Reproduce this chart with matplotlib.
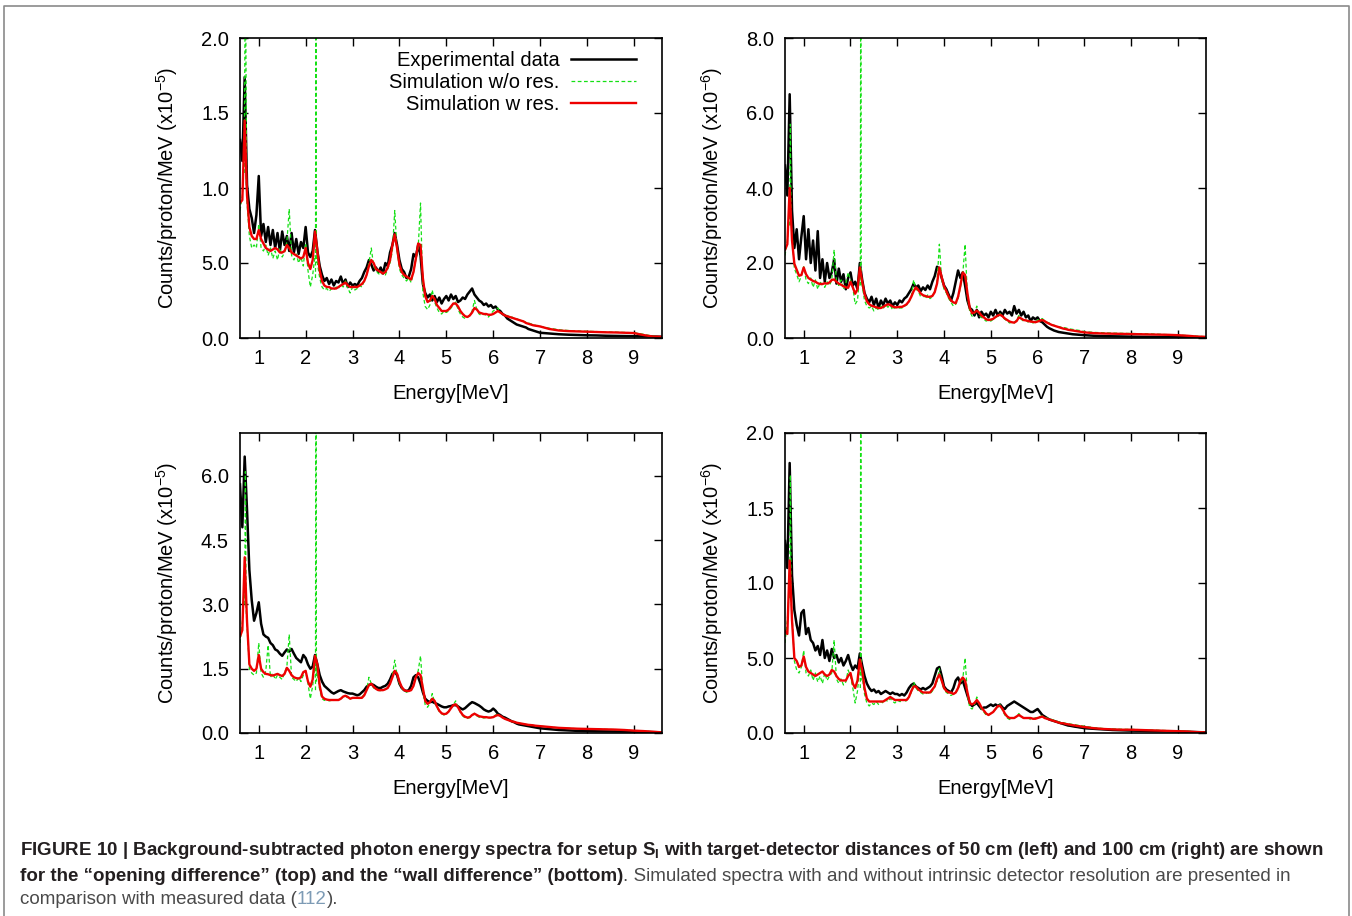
import numpy as np
import matplotlib
matplotlib.use("Agg")
import matplotlib.pyplot as plt
from matplotlib.lines import Line2D
from matplotlib import font_manager

# energy bin centres (MeV): 0.05 steps up to 6.95, then 0.2 steps in the flat tail
energy = np.concatenate([0.60 + 0.05 * np.arange(128), 7.0 + 0.2 * np.arange(14)])

# ---- top left: opening difference, 50 cm (x1e-5) ----
tl_exp = [1.32, 1.18, 1.74, 1.02, 0.86, 0.80, 0.70, 0.82, 1.08, 0.68,
          0.76, 0.64, 0.74, 0.62, 0.72, 0.60, 0.70, 0.58, 0.71, 0.62,
          0.68, 0.58, 0.70, 0.57, 0.66, 0.56, 0.64, 0.60, 0.74, 0.57,
          0.54, 0.58, 0.72, 0.58, 0.48, 0.42, 0.38, 0.40, 0.36, 0.39,
          0.35, 0.38, 0.37, 0.41, 0.36, 0.39, 0.34, 0.37, 0.35, 0.36,
          0.35, 0.38, 0.40, 0.44, 0.47, 0.52, 0.49, 0.45, 0.47, 0.44,
          0.47, 0.43, 0.50, 0.48, 0.57, 0.62, 0.70, 0.62, 0.52, 0.46,
          0.44, 0.40, 0.41, 0.46, 0.56, 0.54, 0.62, 0.55, 0.36, 0.30,
          0.27, 0.29, 0.25, 0.28, 0.24, 0.27, 0.23, 0.26, 0.28, 0.25,
          0.29, 0.26, 0.28, 0.24, 0.25, 0.27, 0.26, 0.29, 0.31, 0.33,
          0.29, 0.27, 0.25, 0.24, 0.22, 0.23, 0.21, 0.22, 0.20, 0.21,
          0.19, 0.18, 0.16, 0.15, 0.13, 0.12, 0.11, 0.10, 0.09, 0.085,
          0.08, 0.075, 0.07, 0.06, 0.055, 0.05, 0.045, 0.04,
          0.035, 0.03, 0.025, 0.022, 0.02, 0.018, 0.017, 0.015, 0.014, 0.013, 0.012, 0.011, 0.01, 0.008]
tl_sim = [0.85, 0.95, 1.30, 0.90, 0.68, 0.60, 0.62, 0.60, 0.76, 0.60,
          0.58, 0.62, 0.55, 0.60, 0.53, 0.58, 0.52, 0.60, 0.54, 0.57,
          0.64, 0.86, 0.55, 0.52, 0.56, 0.50, 0.54, 0.48, 0.63, 0.45,
          0.34, 0.42, 0.55, 0.50, 0.40, 0.34, 0.32, 0.33, 0.31, 0.33,
          0.32, 0.34, 0.33, 0.36, 0.34, 0.38, 0.33, 0.30, 0.34, 0.32,
          0.33, 0.35, 0.34, 0.38, 0.42, 0.50, 0.60, 0.48, 0.45, 0.43,
          0.42, 0.44, 0.42, 0.46, 0.50, 0.58, 0.85, 0.58, 0.46, 0.42,
          0.40, 0.38, 0.40, 0.37, 0.44, 0.52, 0.60, 0.90, 0.30, 0.21,
          0.19, 0.22, 0.32, 0.24, 0.20, 0.17, 0.16, 0.18, 0.17, 0.18,
          0.20, 0.22, 0.24, 0.19, 0.16, 0.14, 0.13, 0.14, 0.15, 0.18,
          0.25, 0.19, 0.16, 0.15, 0.16, 0.15, 0.14, 0.16, 0.18, 0.19,
          0.20, 0.17, 0.16, 0.15, 0.15, 0.14, 0.14, 0.13, 0.13, 0.12,
          0.12, 0.11, 0.105, 0.10, 0.095, 0.09, 0.085, 0.08,
          0.078, 0.065, 0.055, 0.05, 0.047, 0.045, 0.043, 0.04, 0.039, 0.037, 0.035, 0.025, 0.012, 0.008]
tl_res = [0.90, 0.92, 1.45, 0.95, 0.74, 0.68, 0.66, 0.66, 0.72, 0.66,
          0.63, 0.60, 0.59, 0.58, 0.59, 0.60, 0.59, 0.57, 0.57, 0.58,
          0.62, 0.60, 0.57, 0.56, 0.55, 0.54, 0.53, 0.54, 0.60, 0.50,
          0.46, 0.52, 0.71, 0.58, 0.45, 0.38, 0.35, 0.34, 0.34, 0.33,
          0.33, 0.33, 0.34, 0.35, 0.36, 0.37, 0.35, 0.34, 0.34, 0.34,
          0.34, 0.35, 0.36, 0.38, 0.42, 0.48, 0.52, 0.50, 0.46, 0.45,
          0.44, 0.43, 0.44, 0.47, 0.52, 0.62, 0.69, 0.60, 0.49, 0.44,
          0.42, 0.41, 0.40, 0.39, 0.44, 0.53, 0.63, 0.62, 0.40, 0.28,
          0.24, 0.25, 0.28, 0.26, 0.22, 0.20, 0.18, 0.18, 0.18, 0.19,
          0.21, 0.23, 0.23, 0.21, 0.18, 0.16, 0.145, 0.14, 0.15, 0.17,
          0.20, 0.19, 0.17, 0.165, 0.16, 0.16, 0.155, 0.155, 0.16, 0.17,
          0.18, 0.17, 0.16, 0.15, 0.145, 0.14, 0.135, 0.13, 0.125, 0.12,
          0.115, 0.11, 0.10, 0.095, 0.09, 0.085, 0.082, 0.08,
          0.077, 0.06, 0.05, 0.046, 0.044, 0.042, 0.04, 0.038, 0.037, 0.035, 0.033, 0.02, 0.01, 0.008]
tl_line_e = [0.69, 0.715, 0.74, np.nan, 2.21, 2.22, 2.23]
tl_line_y = [1.10, 2.60, 1.10, np.nan, 0.40, 3.00, 0.50]

# ---- top right: opening difference, 100 cm (x1e-6) ----
tr_exp = [4.60, 3.80, 6.50, 3.40, 2.40, 2.90, 2.10, 2.70, 3.25, 2.10,
          2.90, 2.00, 2.60, 1.80, 2.85, 1.60, 2.10, 1.50, 2.00, 1.60,
          1.75, 2.10, 1.45, 1.85, 1.50, 1.70, 1.30, 1.60, 1.75, 1.40,
          1.50, 1.30, 2.00, 1.55, 1.20, 1.05, 0.95, 1.10, 0.88, 1.05,
          0.80, 1.00, 0.88, 1.05, 0.92, 1.00, 0.85, 0.95, 0.88, 1.00,
          0.95, 1.05, 1.10, 1.20, 1.30, 1.45, 1.35, 1.40, 1.25, 1.35,
          1.28, 1.40, 1.30, 1.50, 1.65, 1.90, 1.85, 1.60, 1.40, 1.30,
          1.15, 1.00, 1.20, 1.50, 1.80, 1.60, 1.75, 1.40, 1.00, 0.80,
          0.75, 0.60, 0.75, 0.55, 0.70, 0.60, 0.65, 0.55, 0.70, 0.60,
          0.75, 0.60, 0.70, 0.60, 0.75, 0.65, 0.70, 0.60, 0.85, 0.65,
          0.75, 0.60, 0.70, 0.55, 0.60, 0.45, 0.55, 0.50, 0.55, 0.45,
          0.42, 0.36, 0.30, 0.26, 0.23, 0.20, 0.18, 0.16, 0.15, 0.14,
          0.13, 0.12, 0.11, 0.10, 0.095, 0.09, 0.085, 0.08,
          0.075, 0.06, 0.05, 0.045, 0.04, 0.035, 0.032, 0.03, 0.028, 0.025, 0.022, 0.02, 0.015, 0.01]
tr_sim = [2.20, 2.60, 3.50, 2.80, 1.85, 1.70, 1.50, 1.65, 1.90, 1.55,
          1.45, 1.60, 1.35, 1.55, 1.30, 1.50, 1.40, 1.35, 1.50, 1.40,
          1.55, 2.35, 1.50, 1.40, 1.55, 1.30, 1.45, 1.75, 1.55, 1.35,
          0.90, 1.00, 1.75, 1.40, 1.00, 0.85, 0.80, 0.85, 0.72, 0.80,
          0.75, 0.85, 0.78, 0.90, 0.82, 0.88, 0.75, 0.82, 0.78, 0.80,
          0.80, 0.85, 0.88, 0.95, 1.10, 1.55, 1.30, 1.25, 1.10, 1.15,
          1.05, 1.15, 1.05, 1.10, 1.25, 1.50, 2.50, 1.55, 1.30, 1.20,
          1.05, 0.95, 0.85, 0.90, 1.05, 1.35, 1.70, 2.50, 1.10, 0.70,
          0.58, 0.65, 0.85, 0.60, 0.55, 0.50, 0.45, 0.48, 0.45, 0.50,
          0.55, 0.58, 0.65, 0.55, 0.50, 0.45, 0.40, 0.42, 0.40, 0.48,
          0.60, 0.50, 0.45, 0.48, 0.42, 0.45, 0.40, 0.42, 0.48, 0.50,
          0.52, 0.46, 0.42, 0.40, 0.36, 0.34, 0.32, 0.30, 0.29, 0.28,
          0.27, 0.25, 0.24, 0.23, 0.22, 0.21, 0.20, 0.19,
          0.17, 0.15, 0.14, 0.13, 0.125, 0.12, 0.115, 0.11, 0.10, 0.09, 0.08, 0.065, 0.05, 0.035]
tr_res = [2.35, 2.50, 4.00, 2.60, 1.98, 1.82, 1.66, 1.68, 1.88, 1.70,
          1.60, 1.56, 1.52, 1.50, 1.46, 1.44, 1.44, 1.46, 1.45, 1.48,
          1.55, 1.56, 1.50, 1.45, 1.42, 1.38, 1.35, 1.34, 1.50, 1.35,
          1.18, 1.30, 1.88, 1.50, 1.18, 0.98, 0.90, 0.86, 0.84, 0.82,
          0.80, 0.80, 0.83, 0.87, 0.90, 0.88, 0.84, 0.82, 0.82, 0.83,
          0.83, 0.86, 0.90, 0.98, 1.10, 1.25, 1.35, 1.28, 1.19, 1.14,
          1.12, 1.10, 1.10, 1.12, 1.22, 1.45, 1.88, 1.62, 1.38, 1.25,
          1.10, 1.00, 0.95, 0.93, 1.10, 1.40, 1.75, 1.68, 1.19, 0.80,
          0.66, 0.68, 0.73, 0.68, 0.60, 0.55, 0.50, 0.48, 0.49, 0.51,
          0.56, 0.60, 0.62, 0.58, 0.52, 0.48, 0.44, 0.42, 0.41, 0.45,
          0.55, 0.52, 0.48, 0.47, 0.45, 0.44, 0.43, 0.42, 0.44, 0.46,
          0.48, 0.45, 0.41, 0.38, 0.35, 0.33, 0.31, 0.29, 0.27, 0.25,
          0.24, 0.22, 0.21, 0.20, 0.19, 0.18, 0.17, 0.16,
          0.15, 0.13, 0.12, 0.115, 0.11, 0.105, 0.10, 0.095, 0.09, 0.085, 0.075, 0.06, 0.04, 0.03]
tr_line_e = [0.70, 0.715, 0.73, np.nan, 2.21, 2.22, 2.23]
tr_line_y = [3.00, 5.70, 3.00, np.nan, 1.40, 12.0, 1.60]

# ---- bottom left: wall difference, 50 cm (x1e-5) ----
bl_exp = [5.80, 4.80, 6.45, 5.20, 3.80, 3.10, 2.62, 2.80, 3.05, 2.55,
          2.30, 2.25, 2.22, 2.10, 2.05, 1.95, 1.92, 1.85, 1.80, 1.88,
          1.95, 1.90, 1.96, 1.85, 1.75, 1.70, 1.65, 1.82, 1.75, 1.60,
          1.50, 1.55, 1.82, 1.60, 1.35, 1.20, 1.10, 1.05, 1.00, 0.95,
          0.92, 0.95, 0.98, 1.00, 0.97, 0.95, 0.93, 0.92, 0.92, 0.90,
          0.88, 0.90, 0.95, 1.00, 1.08, 1.12, 1.14, 1.12, 1.08, 1.05,
          1.05, 1.08, 1.10, 1.15, 1.25, 1.38, 1.43, 1.35, 1.15, 1.05,
          1.00, 0.98, 1.00, 1.10, 1.30, 1.35, 1.30, 1.15, 0.95, 0.80,
          0.75, 0.72, 0.73, 0.70, 0.68, 0.65, 0.62, 0.60, 0.60, 0.62,
          0.63, 0.65, 0.65, 0.62, 0.58, 0.55, 0.58, 0.63, 0.68, 0.72,
          0.70, 0.67, 0.64, 0.60, 0.55, 0.52, 0.50, 0.52, 0.57, 0.52,
          0.45, 0.42, 0.38, 0.36, 0.33, 0.30, 0.27, 0.25, 0.22, 0.20,
          0.19, 0.18, 0.17, 0.16, 0.15, 0.14, 0.13, 0.12,
          0.11, 0.09, 0.07, 0.06, 0.05, 0.045, 0.04, 0.038, 0.035, 0.032, 0.03, 0.025, 0.02, 0.015]
bl_sim = [2.10, 2.60, 3.50, 2.50, 1.50, 1.40, 1.35, 1.40, 2.10, 1.40,
          1.30, 1.45, 2.05, 1.30, 1.40, 1.25, 1.35, 1.30, 1.25, 1.40,
          1.55, 2.30, 1.30, 1.25, 1.20, 1.30, 1.20, 1.35, 1.45, 1.15,
          0.80, 1.10, 1.60, 1.40, 1.00, 0.80, 0.76, 0.78, 0.75, 0.76,
          0.76, 0.78, 0.76, 0.80, 0.84, 0.86, 0.82, 0.80, 0.82, 0.80,
          0.82, 0.80, 0.84, 0.90, 1.00, 1.30, 1.15, 1.05, 1.02, 1.00,
          0.98, 1.00, 1.02, 1.05, 1.15, 1.35, 1.70, 1.35, 1.15, 1.05,
          0.98, 0.95, 0.98, 1.00, 1.10, 1.30, 1.45, 1.80, 1.00, 0.65,
          0.60, 0.70, 0.92, 0.72, 0.60, 0.50, 0.45, 0.42, 0.45, 0.50,
          0.58, 0.66, 0.75, 0.60, 0.48, 0.40, 0.35, 0.34, 0.36, 0.40,
          0.46, 0.40, 0.37, 0.36, 0.35, 0.36, 0.35, 0.36, 0.38, 0.42,
          0.44, 0.40, 0.36, 0.33, 0.31, 0.29, 0.27, 0.26, 0.24, 0.23,
          0.22, 0.21, 0.20, 0.19, 0.185, 0.18, 0.17, 0.165,
          0.16, 0.14, 0.12, 0.11, 0.10, 0.095, 0.09, 0.085, 0.08, 0.07, 0.055, 0.045, 0.03, 0.015]
bl_res = [2.25, 2.40, 4.10, 2.60, 1.60, 1.50, 1.45, 1.50, 1.82, 1.50,
          1.42, 1.38, 1.37, 1.35, 1.34, 1.36, 1.38, 1.35, 1.33, 1.38,
          1.52, 1.45, 1.35, 1.30, 1.28, 1.27, 1.30, 1.42, 1.45, 1.20,
          1.08, 1.25, 1.80, 1.60, 1.10, 0.85, 0.80, 0.78, 0.77, 0.77,
          0.77, 0.77, 0.77, 0.80, 0.85, 0.87, 0.84, 0.80, 0.82, 0.82,
          0.82, 0.82, 0.82, 0.88, 1.00, 1.12, 1.15, 1.08, 1.03, 1.00,
          1.00, 1.00, 1.02, 1.05, 1.15, 1.30, 1.45, 1.38, 1.20, 1.07,
          1.00, 0.98, 0.98, 1.00, 1.10, 1.30, 1.40, 1.35, 1.05, 0.75,
          0.68, 0.72, 0.80, 0.75, 0.62, 0.52, 0.46, 0.44, 0.45, 0.50,
          0.58, 0.65, 0.67, 0.60, 0.50, 0.42, 0.38, 0.36, 0.37, 0.42,
          0.45, 0.42, 0.39, 0.38, 0.37, 0.37, 0.36, 0.36, 0.37, 0.40,
          0.42, 0.40, 0.36, 0.33, 0.31, 0.29, 0.27, 0.26, 0.24, 0.23,
          0.22, 0.21, 0.20, 0.19, 0.185, 0.18, 0.17, 0.165,
          0.16, 0.14, 0.12, 0.11, 0.10, 0.095, 0.09, 0.085, 0.08, 0.07, 0.055, 0.045, 0.03, 0.015]
bl_line_e = [0.70, 0.715, 0.73, np.nan, 2.21, 2.22, 2.23]
bl_line_y = [3.00, 6.10, 3.00, np.nan, 1.00, 12.0, 1.20]

# ---- bottom right: wall difference, 100 cm (x1e-6) ----
br_exp = [1.28, 1.10, 1.80, 1.05, 0.82, 0.72, 0.65, 0.80, 0.82, 0.66,
          0.70, 0.62, 0.60, 0.55, 0.58, 0.52, 0.62, 0.50, 0.55, 0.48,
          0.56, 0.50, 0.52, 0.47, 0.50, 0.45, 0.48, 0.52, 0.46, 0.42,
          0.45, 0.43, 0.53, 0.45, 0.38, 0.33, 0.30, 0.28, 0.29, 0.27,
          0.28, 0.26, 0.27, 0.28, 0.27, 0.26, 0.27, 0.26, 0.26, 0.25,
          0.26, 0.25, 0.27, 0.30, 0.32, 0.33, 0.31, 0.30, 0.29, 0.30,
          0.29, 0.30, 0.31, 0.33, 0.38, 0.43, 0.44, 0.38, 0.31, 0.29,
          0.28, 0.27, 0.30, 0.35, 0.37, 0.33, 0.35, 0.30, 0.25, 0.20,
          0.18, 0.19, 0.20, 0.18, 0.16, 0.17, 0.17, 0.18, 0.19, 0.18,
          0.19, 0.18, 0.19, 0.17, 0.16, 0.18, 0.19, 0.20, 0.21, 0.20,
          0.19, 0.18, 0.17, 0.16, 0.15, 0.14, 0.14, 0.15, 0.16, 0.14,
          0.12, 0.11, 0.10, 0.09, 0.085, 0.08, 0.075, 0.07, 0.065, 0.06,
          0.055, 0.05, 0.048, 0.045, 0.042, 0.04, 0.037, 0.035,
          0.032, 0.028, 0.024, 0.02, 0.018, 0.016, 0.015, 0.013, 0.012, 0.011, 0.01, 0.008, 0.006, 0.004]
br_sim = [0.60, 0.75, 1.00, 0.80, 0.48, 0.42, 0.40, 0.44, 0.55, 0.40,
          0.38, 0.42, 0.35, 0.40, 0.34, 0.38, 0.33, 0.40, 0.35, 0.38,
          0.40, 0.62, 0.36, 0.33, 0.36, 0.32, 0.34, 0.42, 0.38, 0.30,
          0.20, 0.28, 0.45, 0.38, 0.26, 0.20, 0.18, 0.20, 0.19, 0.21,
          0.19, 0.21, 0.20, 0.22, 0.21, 0.23, 0.21, 0.20, 0.22, 0.21,
          0.21, 0.22, 0.21, 0.24, 0.27, 0.34, 0.30, 0.28, 0.27, 0.26,
          0.26, 0.27, 0.26, 0.28, 0.31, 0.34, 0.43, 0.34, 0.29, 0.27,
          0.26, 0.25, 0.26, 0.27, 0.29, 0.33, 0.36, 0.50, 0.25, 0.17,
          0.16, 0.19, 0.24, 0.19, 0.16, 0.14, 0.12, 0.12, 0.13, 0.14,
          0.16, 0.17, 0.19, 0.15, 0.12, 0.10, 0.09, 0.095, 0.10, 0.11,
          0.13, 0.11, 0.10, 0.095, 0.10, 0.09, 0.095, 0.10, 0.105, 0.11,
          0.115, 0.105, 0.10, 0.095, 0.09, 0.085, 0.08, 0.075, 0.07, 0.068,
          0.065, 0.062, 0.06, 0.057, 0.055, 0.052, 0.05, 0.048,
          0.045, 0.036, 0.03, 0.027, 0.025, 0.024, 0.022, 0.02, 0.018, 0.016, 0.014, 0.012, 0.008, 0.005]
br_res = [0.68, 0.66, 1.15, 0.75, 0.50, 0.48, 0.44, 0.45, 0.51, 0.44,
          0.41, 0.40, 0.39, 0.38, 0.39, 0.40, 0.41, 0.39, 0.38, 0.39,
          0.42, 0.41, 0.38, 0.36, 0.35, 0.35, 0.35, 0.38, 0.40, 0.33,
          0.30, 0.35, 0.49, 0.42, 0.30, 0.23, 0.21, 0.21, 0.21, 0.21,
          0.21, 0.21, 0.21, 0.22, 0.23, 0.24, 0.23, 0.22, 0.22, 0.22,
          0.22, 0.22, 0.22, 0.24, 0.28, 0.31, 0.31, 0.29, 0.28, 0.27,
          0.27, 0.27, 0.27, 0.29, 0.31, 0.36, 0.39, 0.35, 0.30, 0.28,
          0.27, 0.27, 0.26, 0.27, 0.30, 0.35, 0.37, 0.35, 0.27, 0.20,
          0.19, 0.20, 0.22, 0.20, 0.17, 0.15, 0.13, 0.12, 0.13, 0.14,
          0.16, 0.18, 0.18, 0.16, 0.13, 0.11, 0.10, 0.10, 0.10, 0.11,
          0.12, 0.11, 0.10, 0.10, 0.10, 0.10, 0.095, 0.095, 0.10, 0.105,
          0.11, 0.10, 0.095, 0.09, 0.085, 0.08, 0.075, 0.07, 0.065, 0.065,
          0.06, 0.058, 0.055, 0.052, 0.05, 0.047, 0.045, 0.042,
          0.04, 0.032, 0.027, 0.024, 0.022, 0.022, 0.02, 0.018, 0.016, 0.014, 0.012, 0.01, 0.006, 0.004]
br_line_e = [0.70, 0.715, 0.73, np.nan, 2.21, 2.22, 2.23]
br_line_y = [0.90, 1.72, 0.90, np.nan, 0.30, 3.00, 0.35]

x_ticks = [1, 2, 3, 4, 5, 6, 7, 8, 9]
tl_yticks, tl_ylabels = [0, 0.5, 1.0, 1.5, 2.0], ["0.0", "5.0", "1.0", "1.5", "2.0"]
tr_yticks, tr_ylabels = [0, 2, 4, 6, 8], ["0.0", "2.0", "4.0", "6.0", "8.0"]
bl_yticks, bl_ylabels = [0, 1.5, 3.0, 4.5, 6.0], ["0.0", "1.5", "3.0", "4.5", "6.0"]
br_yticks, br_ylabels = [0, 0.5, 1.0, 1.5, 2.0], ["0.0", "5.0", "1.0", "1.5", "2.0"]

names = {f.name for f in font_manager.fontManager.ttflist}
narrow = "Liberation Sans Narrow" if "Liberation Sans Narrow" in names else "Liberation Sans"

plt.rcParams["font.family"] = ["Liberation Sans", "DejaVu Sans"]
plt.rcParams["mathtext.fontset"] = "custom"
plt.rcParams["mathtext.rm"] = "Liberation Sans"
plt.rcParams["mathtext.it"] = "Liberation Sans:italic"
plt.rcParams["mathtext.bf"] = narrow + ":bold"

W, H = 1352, 916
fig = plt.figure(figsize=(W / 100, H / 100), dpi=100)

GREEN = "#14e014"
RED = "#ee0000"
FS = 14.5

panels = [
    ((240, 38, 662, 338), tl_exp, tl_sim, tl_res, tl_line_e, tl_line_y, 2.0, tl_yticks, tl_ylabels, "-5"),
    ((785, 38, 1206, 338), tr_exp, tr_sim, tr_res, tr_line_e, tr_line_y, 8.0, tr_yticks, tr_ylabels, "-6"),
    ((240, 433, 662, 733), bl_exp, bl_sim, bl_res, bl_line_e, bl_line_y, 7.0, bl_yticks, bl_ylabels, "-5"),
    ((785, 433, 1206, 733), br_exp, br_sim, br_res, br_line_e, br_line_y, 2.0, br_yticks, br_ylabels, "-6"),
]

for i, (box, exp, sim, res, le, ly, ytop, yt, yl, power) in enumerate(panels):
    l, t, r, b = box
    ax = fig.add_axes([l / W, 1 - b / H, (r - l) / W, (b - t) / H])
    ax.plot(energy, exp, color="black", lw=1.8, label="Experimental data")
    ax.plot(energy, sim, color=GREEN, lw=0.9, ls=(0, (3, 2)), label="Simulation w/o res.")
    ax.plot(le, ly, color=GREEN, lw=0.9, ls=(0, (3, 2)))
    ax.plot(energy, res, color=RED, lw=1.7, label="Simulation w res.")

    ax.set_xlim(0.6, 9.6)
    ax.set_ylim(0, ytop)
    ax.set_xticks(x_ticks)
    ax.set_yticks(yt)
    ax.set_yticklabels(yl)
    ax.tick_params(direction="in", top=True, right=True, length=6, width=1.0,
                   labelsize=FS, color="black")
    ax.tick_params(axis="x", pad=8)
    ax.tick_params(axis="y", pad=8)
    for s in ax.spines.values():
        s.set_linewidth(1.2)

    ax.set_xlabel("Energy[MeV]", fontsize=FS)
    ax.xaxis.set_label_coords(0.5, -0.185)
    ax.xaxis.label.set_va("center")
    ax.set_ylabel("Counts/proton/MeV (x10$^{" + power + "}$)", fontsize=FS)
    ax.yaxis.set_label_coords(-0.174, 0.5)
    ax.yaxis.label.set_va("center")

    if i == 0:
        ax.legend(loc="upper right", bbox_to_anchor=(0.938, 0.958), frameon=False,
                  markerfirst=False, borderaxespad=0, borderpad=0, labelspacing=0.15,
                  handlelength=3.2, handletextpad=0.6, fontsize=FS)

# outer frame of the figure panel
fig.add_artist(Line2D([4 / W, 4 / W, 1349 / W, 1349 / W], [0, 1 - 6 / H, 1 - 6 / H, 0],
                      transform=fig.transFigure, color="#8a8a8a", lw=1.2))

# caption
x0 = 20 / W
fam = [narrow, "DejaVu Sans"]
cap_bold = "#231f20"
cap_reg = "#4a4a4a"
line1 = ("FIGURE 10 | Background-subtracted photon energy spectra for setup "
         r"$\mathbf{S_I}$ with target-detector distances of 50 cm (left) and 100 cm (right) are shown")
t1 = fig.text(x0, 1 - 861 / H, line1, fontsize=13, fontweight="bold", family=fam,
              color=cap_bold, va="bottom")
renderer = fig.canvas.get_renderer()
w1 = t1.get_window_extent(renderer).width
cfs = 13 * 1298 / w1
t1.set_fontsize(cfs)

t2 = fig.text(x0, 1 - 885 / H, "for the \u201copening difference\u201d (top) and the \u201cwall difference\u201d (bottom)",
              fontsize=cfs, fontweight="bold", family=fam, color=cap_bold, va="bottom")
plt.annotate(". Simulated spectra with and without intrinsic detector resolution are presented in",
             xy=(1, 0), xycoords=t2, va="bottom", fontsize=cfs, family=fam, color=cap_reg,
             annotation_clip=False)

t3 = fig.text(x0, 1 - 908 / H, "comparison with measured data (", fontsize=cfs,
              family=fam, color=cap_reg, va="bottom")
t3b = plt.annotate("112", xy=(1, 0), xycoords=t3, va="bottom", fontsize=cfs,
                   family=fam, color="#7d9bb5", annotation_clip=False)
plt.annotate(").", xy=(1, 0), xycoords=t3b, va="bottom", fontsize=cfs,
             family=fam, color=cap_reg, annotation_clip=False)

fig.savefig("out.png", dpi=100)
